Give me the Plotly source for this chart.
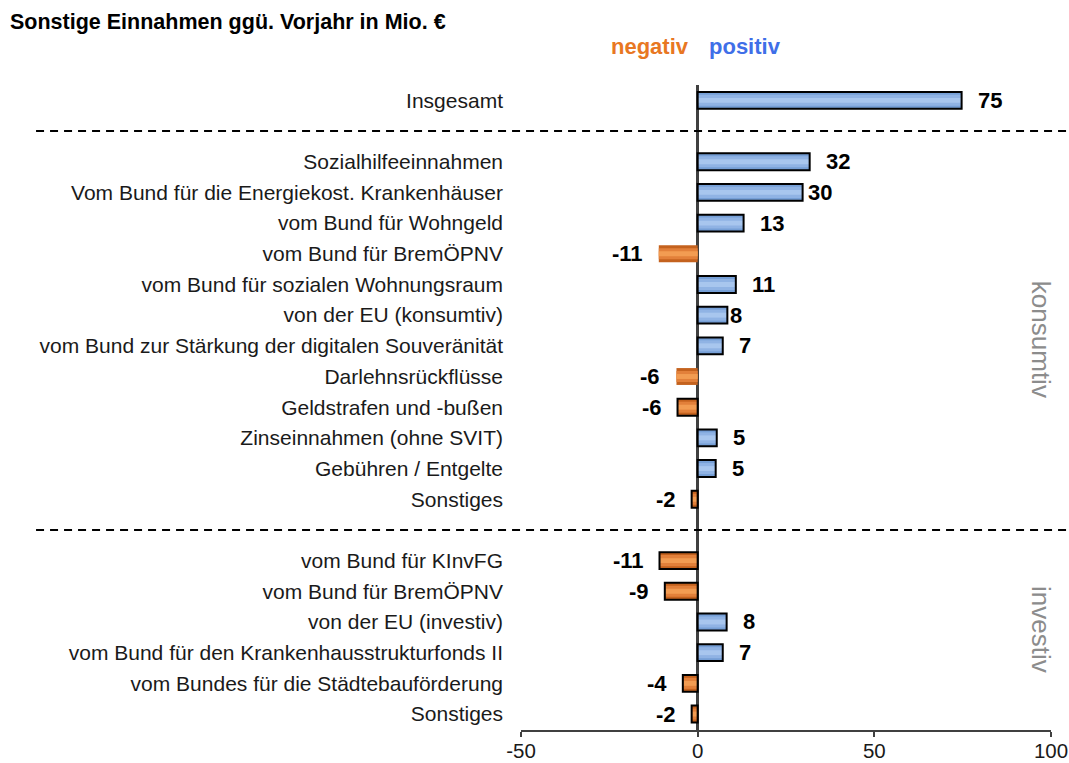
import plotly.graph_objects as go

# ---------------- data ----------------
top_labels = ["Insgesamt"]
top_values = [74.7]

konsum_labels = [
    "Sozialhilfeeinnahmen",
    "Vom Bund für die Energiekost. Krankenhäuser",
    "vom Bund für Wohngeld",
    "vom Bund für BremÖPNV",
    "vom Bund für sozialen Wohnungsraum",
    "von der EU (konsumtiv)",
    "vom Bund zur Stärkung der digitalen Souveränität",
    "Darlehnsrückflüsse",
    "Geldstrafen und -bußen",
    "Zinseinnahmen (ohne SVIT)",
    "Gebühren / Entgelte",
    "Sonstiges",
]
konsum_values = [31.7, 29.7, 13.0, -11.0, 10.8, 8.4, 7.1, -6.0, -5.7, 5.4, 5.1, -1.7]

invest_labels = [
    "vom Bund für KInvFG",
    "vom Bund für BremÖPNV",
    "von der EU (investiv)",
    "vom Bund für den Krankenhausstrukturfonds II",
    "vom Bundes für die Städtebauförderung",
    "Sonstiges",
]
invest_values = [-10.8, -9.3, 8.2, 7.1, -4.2, -1.7]

x_tickvals = [-50, 0, 50, 100]
x_ticktext = ["-50", "0", "50", "100"]

# style: bars drawn without a dark outline, and labels placed tight to the bar
no_outline = {("konsum", 3), ("konsum", 7)}
tight_label = {("konsum", 1): 3, ("konsum", 5): 1}

# ---------------- build rows ----------------
labels, values, pos, outline, shifts = [], [], [], [], []
p = 0
for grp, labs, vals in [("top", top_labels, top_values),
                        ("konsum", konsum_labels, konsum_values),
                        ("invest", invest_labels, invest_values)]:
    for i, (l, v) in enumerate(zip(labs, vals)):
        labels.append(l)
        values.append(v)
        pos.append(p)
        outline.append(0 if (grp, i) in no_outline else 2)
        shifts.append(tight_label.get((grp, i), 14))
        p += 1
    p += 1  # gap row (dashed separator)
sep1 = len(top_labels)
sep2 = len(top_labels) + 1 + len(konsum_labels)

col_a = ["#769fd6" if v > 0 else "#c4621e" for v in values]
col_b = ["#90b3e4" if v > 0 else "#e2803a" for v in values]
col_c = ["#a8c6ee" if v > 0 else "#f29c52" for v in values]

fig = go.Figure()
for w, cols in [(0.55, col_a), (0.36, col_b), (0.16, col_c)]:
    fig.add_trace(go.Bar(y=pos, x=values, orientation="h", width=w,
                         marker=dict(color=cols, line=dict(width=0)),
                         hoverinfo="skip", showlegend=False))
fig.add_trace(go.Bar(y=pos, x=values, orientation="h", width=0.55,
                     marker=dict(color="rgba(0,0,0,0)",
                                 line=dict(color="#000000", width=outline)),
                     hoverinfo="skip", showlegend=False))

fig.update_layout(
    width=1069, height=763,
    margin=dict(l=521, r=18, t=85, b=33, autoexpand=False),
    barmode="overlay",
    paper_bgcolor="white", plot_bgcolor="white",
    font=dict(family="Liberation Sans, Arial", size=21, color="#1a1a1a"),
    xaxis=dict(range=[-50, 100], tickvals=x_tickvals, ticktext=x_ticktext,
               showgrid=False, automargin=False,
               zeroline=True, zerolinecolor="#404040", zerolinewidth=2.5,
               showline=True, linecolor="#404040", linewidth=2,
               ticks="outside", ticklen=5, tickcolor="#404040", tickwidth=2,
               ticklabelstandoff=-4,
               tickfont=dict(size=20.5, color="#1a1a1a")),
    yaxis=dict(range=[pos[-1] + 0.52, -0.5], tickvals=pos, ticktext=labels,
               showgrid=False, zeroline=False, showline=False, ticks="",
               automargin=False,
               ticklabelstandoff=17, tickfont=dict(size=21, color="#1a1a1a")),
)

# value labels
for v, y, s in zip(values, pos, shifts):
    fig.add_annotation(x=v, y=y, xref="x", yref="y", text=f"<b>{round(v)}</b>",
                       showarrow=False, xanchor="left" if v > 0 else "right",
                       yanchor="middle", xshift=s if v > 0 else -s,
                       font=dict(size=22, color="#000000"))

# dashed separators
for s in [sep1, sep2]:
    fig.add_shape(type="line", xref="paper", yref="y",
                  x0=-0.915, x1=1.03, y0=s, y1=s,
                  line=dict(color="#000000", width=2, dash="8px,6px"))

# titles and annotations
fig.add_annotation(text="<b>Sonstige Einnahmen ggü. Vorjahr in Mio. €</b>",
                   xref="paper", yref="paper", x=-0.968, y=1.098,
                   xanchor="left", yanchor="middle", showarrow=False,
                   font=dict(size=21.5, color="#000000"))
fig.add_annotation(text="<b>negativ</b>", xref="x", yref="paper", x=0, y=1.059,
                   xanchor="right", yanchor="middle", xshift=-7, showarrow=False,
                   font=dict(size=22, color="#e87722"))
fig.add_annotation(text="<b>positiv</b>", xref="x", yref="paper", x=0, y=1.059,
                   xanchor="left", yanchor="middle", xshift=9, showarrow=False,
                   font=dict(size=22, color="#3f6fe8"))
fig.add_annotation(text="konsumtiv", xref="paper", yref="paper", x=0.981, y=0.605,
                   textangle=90, xanchor="center", yanchor="middle", showarrow=False,
                   font=dict(size=26, color="#8c8c8c"))
fig.add_annotation(text="investiv", xref="paper", yref="paper", x=0.981, y=0.155,
                   textangle=90, xanchor="center", yanchor="middle", showarrow=False,
                   font=dict(size=26, color="#8c8c8c"))

fig.write_html("out.html",
               config={"displayModeBar": False},
               post_script="document.body.style.margin='0';"
                           "document.body.style.overflow='hidden';")
